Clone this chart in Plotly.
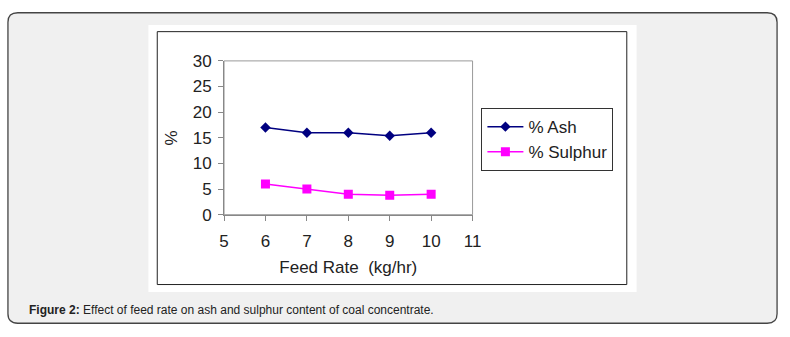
import plotly.graph_objects as go

feed_rate = [6, 7, 8, 9, 10]
ash = [17.0, 16.0, 16.0, 15.4, 16.0]
sulphur = [6.0, 5.0, 4.0, 3.8, 4.0]
x_ticks = [5, 6, 7, 8, 9, 10, 11]
y_ticks = [0, 5, 10, 15, 20, 25, 30]

W, H = 790, 337
def px(x): return x / W
def py(y): return 1 - y / H

fig = go.Figure()
fig.add_trace(go.Scatter(x=feed_rate, y=ash, name="% Ash", mode="lines+markers",
                         line=dict(color="#000080", width=1.5),
                         marker=dict(symbol="diamond", size=8, color="#000080")))
fig.add_trace(go.Scatter(x=feed_rate, y=sulphur, name="% Sulphur", mode="lines+markers",
                         line=dict(color="#ff00ff", width=1.5),
                         marker=dict(symbol="square", size=9, color="#ff00ff")))

# rounded outer box
x0, y0, x1, y1, r = 3, 4, 786, 333, 10
path = (f"M {px(x0+r)},{py(y0)} L {px(x1-r)},{py(y0)} Q {px(x1)},{py(y0)} {px(x1)},{py(y0+r)} "
        f"L {px(x1)},{py(y1-r)} Q {px(x1)},{py(y1)} {px(x1-r)},{py(y1)} "
        f"L {px(x0+r)},{py(y1)} Q {px(x0)},{py(y1)} {px(x0)},{py(y1-r)} "
        f"L {px(x0)},{py(y0+r)} Q {px(x0)},{py(y0)} {px(x0+r)},{py(y0)} Z")
shapes = [
    dict(type="path", xref="paper", yref="paper", path=path,
         fillcolor="#f0f0f0", line=dict(color="#444444", width=1.3), layer="below"),
    dict(type="rect", xref="paper", yref="paper", x0=px(146), x1=px(643), y0=py(300), y1=py(17),
         fillcolor="white", line=dict(width=0), layer="below"),
    dict(type="rect", xref="paper", yref="paper", x0=px(155), x1=px(633), y0=py(292), y1=py(24),
         fillcolor="rgba(0,0,0,0)", line=dict(color="#222222", width=1), layer="below"),
    dict(type="rect", xref="paper", yref="paper", x0=px(223), x1=px(476), y0=py(218), y1=py(55),
         fillcolor="rgba(0,0,0,0)", line=dict(color="#999999", width=1), layer="below"),
]

fig.update_layout(
    width=W, height=H, margin=dict(l=0, r=0, t=0, b=0),
    paper_bgcolor="white", plot_bgcolor="white",
    font=dict(family="Arial, Liberation Sans, sans-serif", size=17, color="#222222"),
    shapes=shapes,
    xaxis=dict(domain=[px(223), px(476)], range=[5, 11], tickvals=x_ticks,
               showgrid=False, zeroline=False, showline=True, linecolor="#888888", linewidth=1,
               ticks="outside", ticklen=5, tickcolor="#888888", tickfont=dict(size=17),
               ticklabelstandoff=6,
               title=dict(text="Feed Rate  (kg/hr)", font=dict(size=17), standoff=10)),
    yaxis=dict(domain=[py(218), py(55)], range=[0, 30], tickvals=y_ticks,
               showgrid=False, zeroline=False, showline=True, linecolor="#888888", linewidth=1,
               ticks="outside", ticklen=5, tickcolor="#888888", tickfont=dict(size=17),
               ticklabelstandoff=3,
               title=dict(text="%", font=dict(size=17), standoff=10)),
    legend=dict(x=px(485), y=py(105), xanchor="left", yanchor="top",
                bordercolor="#333333", borderwidth=1, bgcolor="white",
                font=dict(size=17), itemwidth=36, tracegroupgap=2),
    showlegend=True,
)
fig.add_annotation(xref="paper", yref="paper", x=px(22), y=py(319), xanchor="left", yanchor="middle",
                   text="<b>Figure 2:</b> Effect of feed rate on ash and sulphur content of coal concentrate.",
                   showarrow=False, font=dict(size=12, color="#222222"))
fig.write_html("out.html")
